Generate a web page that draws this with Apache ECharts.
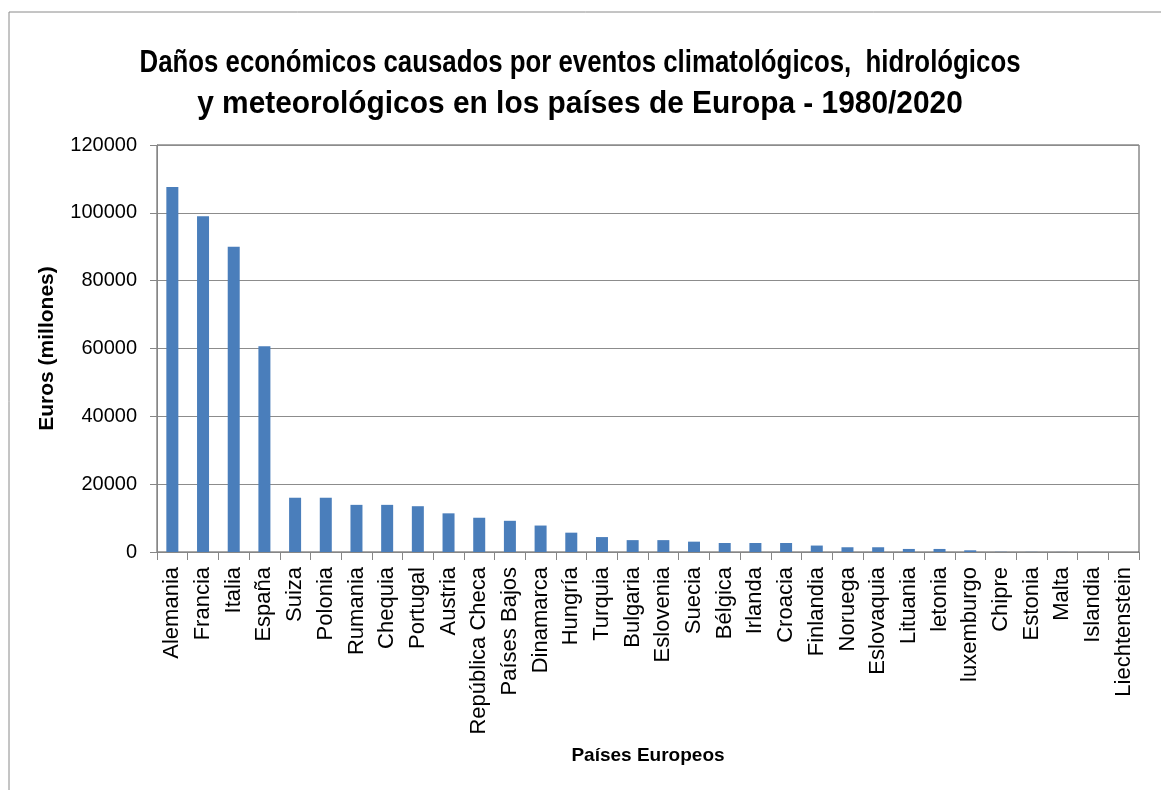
<!DOCTYPE html>
<html>
<head>
<meta charset="utf-8">
<script src="https://cdn.jsdelivr.net/npm/echarts@6/dist/echarts.min.js"></script>
<style>
  html, body { margin: 0; padding: 0; background: #ffffff; }
  #chart { width: 1161px; height: 790px; }
</style>
</head>
<body>
<div id="chart"></div>
<script>
// Países europeos ordenados por daños económicos (millones de euros), 1980–2020
const paises = [
  'Alemania', 'Francia', 'Italia', 'España', 'Suiza', 'Polonia', 'Rumania', 'Chequia',
  'Portugal', 'Austria', 'República Checa', 'Países Bajos', 'Dinamarca', 'Hungría', 'Turquia',
  'Bulgaria', 'Eslovenia', 'Suecia', 'Bélgica', 'Irlanda', 'Croacia', 'Finlandia', 'Noruega',
  'Eslovaquia', 'Lituania', 'letonia', 'luxemburgo', 'Chipre', 'Estonia', 'Malta', 'Islandia',
  'Liechtenstein'
];
const danos = [
  107600, 99000, 90000, 60700, 16000, 16000, 13900, 13900,
  13500, 11400, 10100, 9200, 7800, 5700, 4400,
  3500, 3500, 3050, 2650, 2650, 2650, 1900, 1400,
  1400, 900, 900, 500, 60, 40, 20, 10,
  2
];
const ticksY = [0, 20000, 40000, 60000, 80000, 100000, 120000];
const titulo = [
  'Daños económicos causados por eventos climatológicos,  hidrológicos',
  'y meteorológicos en los países de Europa - 1980/2020'
];

// Título en dos líneas, tipografía estrecha simulada con escala horizontal
const fuenteTitulo = 'bold 31px "Liberation Sans", sans-serif';

const chart = echarts.init(document.getElementById('chart'));
chart.setOption({
  backgroundColor: '#ffffff',
  animation: false,
  graphic: [
    {
      type: 'rect',
      shape: { x: 9, y: 12, width: 1200, height: 820 },
      style: { fill: 'none', stroke: '#8a8a8a', lineWidth: 1 },
      silent: true
    },
    {
      type: 'text',
      x: 580, y: 63, scaleX: 0.833,
      style: { text: titulo[0], font: fuenteTitulo, fill: '#000000', align: 'center', verticalAlign: 'middle' },
      silent: true
    },
    {
      type: 'text',
      x: 580, y: 104, scaleX: 0.964,
      style: { text: titulo[1], font: fuenteTitulo, fill: '#000000', align: 'center', verticalAlign: 'middle' },
      silent: true
    }
  ],
  grid: {
    left: 157, right: 22, top: 145, bottom: 238,
    show: true, borderColor: '#505050', borderWidth: 1
  },
  xAxis: {
    type: 'category',
    data: paises,
    name: 'Países Europeos',
    nameLocation: 'middle',
    nameGap: 194,
    nameTextStyle: {
      fontFamily: 'Liberation Sans, sans-serif',
      fontWeight: 'bold', fontSize: 19, color: '#000000'
    },
    axisLine: { lineStyle: { color: '#868686', width: 1 } },
    axisTick: { show: true, length: 8, alignWithLabel: false, lineStyle: { color: '#868686' } },
    axisLabel: {
      rotate: 90, interval: 0, margin: 15,
      fontFamily: 'Liberation Sans, sans-serif', fontSize: 22, color: '#000000'
    }
  },
  yAxis: {
    type: 'value',
    min: 0, max: 120000, interval: 20000,
    name: 'Euros (millones)',
    nameLocation: 'middle',
    nameGap: 99,
    nameRotate: 90,
    nameTextStyle: {
      fontFamily: 'Liberation Sans, sans-serif',
      fontWeight: 'bold', fontSize: 21, color: '#000000'
    },
    axisLine: { show: true, lineStyle: { color: '#868686', width: 1 } },
    axisTick: { show: true, length: 7, lineStyle: { color: '#868686' } },
    splitLine: { lineStyle: { color: '#8c8c8c', width: 1 } },
    axisLabel: {
      margin: 20,
      fontFamily: 'Liberation Sans, sans-serif', fontSize: 20, color: '#000000',
      formatter: v => ticksY.includes(v) ? String(v) : ''
    }
  },
  series: [{
    type: 'bar',
    data: danos,
    barWidth: 12,
    itemStyle: { color: '#4a7ebb' }
  }]
});
</script>
</body>
</html>
